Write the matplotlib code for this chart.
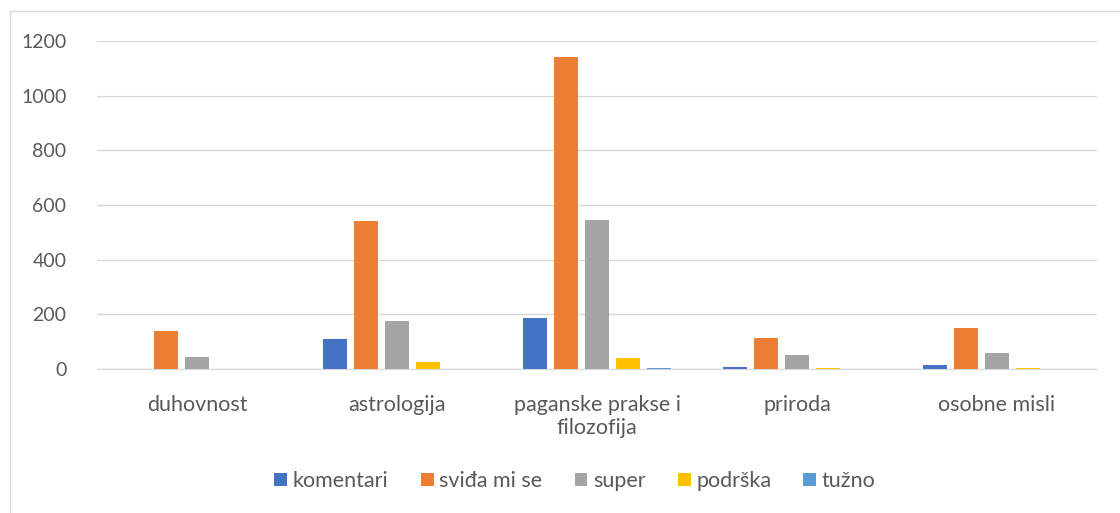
import matplotlib
matplotlib.use("Agg")
import matplotlib.pyplot as plt
import numpy as np
from matplotlib.patches import Rectangle

categories = ["duhovnost", "astrologija", "paganske prakse i\nfilozofija", "priroda", "osobne misli"]
series_names = ["komentari", "sviđa mi se", "super", "podrška", "tužno"]
komentari = [0, 110, 187, 6, 13]
svida_mi_se = [140, 540, 1141, 113, 150]
super_ = [45, 175, 545, 50, 60]
podrska = [0, 25, 40, 5, 5]
tuzno = [0, 0, 5, 0, 0]
colors = ["#4472C4", "#ED7D31", "#A5A5A5", "#FFC000", "#5B9BD5"]
yticks = [0, 200, 400, 600, 800, 1000, 1200]

plt.rcParams['font.family'] = ['Lato', 'DejaVu Sans']

fig = plt.figure(figsize=(11.2, 5.13), dpi=100)
ax = fig.add_axes([97/1120, 1-369/513, 1000/1120, 328/513])

data = [komentari, svida_mi_se, super_, podrska, tuzno]
x = np.arange(len(categories))
step = 0.155
width = 0.12
for i, (name, vals, c) in enumerate(zip(series_names, data, colors)):
    ax.bar(x + (i - 2) * step, vals, width=width, color=c, label=name, zorder=3)

ax.set_xlim(-0.5, len(categories) - 0.5)
ax.set_ylim(0, 1200)
ax.set_yticks(yticks)
ax.set_xticks(x)
ax.set_xticklabels(categories, fontsize=15.5, linespacing=1.15)
ax.grid(axis='y', color='#D9D9D9', linewidth=1, zorder=0)
for s in ['top', 'right', 'left']:
    ax.spines[s].set_visible(False)
ax.spines['bottom'].set_color('#D9D9D9')
ax.tick_params(axis='both', length=0, colors='#595959')
ax.tick_params(axis='y', labelsize=14, pad=22)
ax.tick_params(axis='x', pad=19)

leg = fig.legend(loc='center', bbox_to_anchor=(575/1120, 1-481/513), ncol=5, frameon=False,
                 fontsize=15.5, handlelength=0.6, handleheight=0.6, handletextpad=0.25,
                 columnspacing=1.5)
for t in leg.get_texts():
    t.set_color('#595959')

fig.patches.append(Rectangle((10/1120, -0.1), 1.2, 1-11/513 + 0.1, transform=fig.transFigure,
                             fill=False, edgecolor='#D9D9D9', linewidth=1))

fig.savefig("out.png", dpi=100, facecolor='white')
